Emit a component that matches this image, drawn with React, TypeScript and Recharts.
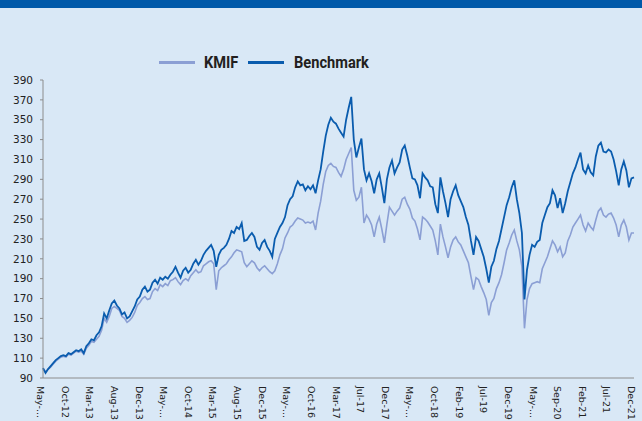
import React from 'react';
import { LineChart, Line, XAxis, YAxis, Legend } from 'recharts';

// half-month readings, May-12 .. Dec-21
const kmif = [
  100, 96, 99, 101, 104, 107, 109, 111, 112, 111, 114, 113, 115, 117, 116, 117, 114, 120, 123, 127,
  126, 129, 132, 138, 150, 146, 152, 160, 162, 160, 158, 152, 150, 146, 148, 151, 156, 163, 166, 170,
  172, 169, 170, 177, 180, 178, 184, 182, 185, 183, 188, 189, 191, 187, 184, 188, 190, 188, 193, 196,
  199, 196, 197, 203, 205, 207, 208, 205, 179, 198, 201, 203, 205, 209, 212, 216, 219, 218, 217, 206,
  202, 205, 208, 206, 201, 198, 201, 203, 200, 197, 195, 198, 205, 214, 220, 231, 236, 242, 244, 248,
  251, 250, 249, 246, 247, 246, 248, 239, 256, 268, 285, 298, 304, 306, 303, 302, 297, 293, 300, 310,
  316, 322, 279, 269, 272, 282, 246, 254, 250, 244, 232, 245, 252, 240, 226, 245, 262, 258, 254, 258,
  261, 270, 272, 265, 260, 251, 248, 240, 229, 252, 250, 247, 243, 239, 228, 214, 245, 232, 222, 211,
  222, 229, 232, 227, 224, 218, 212, 206, 192, 179, 191, 189, 182, 176, 169, 153, 166, 170, 180, 186,
  194, 206, 219, 226, 234, 239, 228, 219, 202, 140, 169, 180, 185, 186, 187, 186, 200, 206, 212, 220,
  228, 224, 217, 222, 212, 216, 228, 234, 242, 246, 250, 254, 244, 238, 246, 242, 239, 249, 258, 261,
  254, 252, 255, 256, 251, 244, 232, 244, 249, 242, 229, 236, 236,
];

const benchmark = [
  100, 95, 99, 102, 105, 108, 110, 112, 113, 112, 115, 114, 116, 118, 117, 119, 115, 122, 125, 129,
  128, 133, 136, 142, 155, 150, 158, 165, 168, 163, 160, 154, 156, 150, 152, 157, 162, 169, 172, 179,
  182, 177, 179, 186, 189, 185, 191, 189, 192, 190, 194, 197, 202, 196, 191, 198, 201, 196, 199, 205,
  209, 204, 208, 214, 218, 221, 224, 218, 202, 214, 219, 221, 224, 230, 238, 236, 242, 240, 246, 228,
  229, 233, 236, 232, 222, 219, 226, 229, 222, 218, 212, 230, 236, 242, 246, 252, 264, 270, 273, 282,
  288, 284, 285, 279, 283, 280, 284, 276, 289, 300, 318, 334, 345, 352, 348, 346, 341, 337, 333, 350,
  362, 373, 330, 312, 322, 331, 300, 289, 296, 288, 276, 290, 296, 282, 266, 290, 302, 309, 296, 302,
  307, 320, 324, 314, 302, 291, 290, 284, 271, 296, 292, 289, 283, 282, 265, 256, 292, 278, 266, 252,
  270, 278, 284, 274, 268, 262, 252, 244, 228, 214, 232, 228, 220, 212, 200, 186, 202, 208, 220, 228,
  240, 252, 264, 272, 282, 289, 270, 256, 236, 169, 199, 214, 224, 222, 227, 229, 246, 254, 262, 266,
  279, 274, 261, 271, 256, 266, 278, 287, 296, 302, 310, 317, 300, 296, 304, 297, 294, 313, 324, 327,
  318, 317, 320, 318, 310, 298, 284, 300, 308, 299, 282, 291, 292,
];

const seriesNames = ['KMIF', 'Benchmark'];

const tickLabels = [
  'May-...', 'Oct-12', 'Mar-13', 'Aug-13', 'Dec-13', 'May-...', 'Oct-14', 'Mar-15', 'Aug-15',
  'Dec-15', 'May-...', 'Oct-16', 'Mar-17', 'Jul-17', 'Dec-17', 'May-...', 'Oct-18', 'Feb-19',
  'Jul-19', 'Dec-19', 'May-...', 'Sep-20', 'Feb-21', 'Jul-21', 'Dec-21',
];

const yTicks = [90, 110, 130, 150, 170, 190, 210, 230, 250, 270, 290, 310, 330, 350, 370, 390];

const MONTHS = 116;
const data = kmif.map((v, i) => ({ t: i / 2, kmif: v, benchmark: benchmark[i] }));
const xTicks = tickLabels.map((_, i) => (i * MONTHS) / (tickLabels.length - 1));

const BG = '#d9e8f6';

function DateTick(props: any) {
  const { x, y, index } = props;
  const tx = x - 6;
  const ty = y;
  return (
    <text
      x={tx}
      y={ty}
      transform={`rotate(90 ${tx} ${ty})`}
      textAnchor="start"
      fontSize={9.5}
      fontFamily="DejaVu Sans, Verdana, sans-serif"
      fill="#222"
    >
      {tickLabels[index]}
    </text>
  );
}

function LegendBox(props: any) {
  const items = [...(props.payload || [])].sort(
    (a: any, b: any) => seriesNames.indexOf(a.value) - seriesNames.indexOf(b.value)
  );
  const textWidths = [32, 80];
  return (
    <div style={{ display: 'flex', alignItems: 'center', height: 24, paddingLeft: 159 }}>
      {items.map((it: any, i: number) => (
        <div key={i} style={{ display: 'flex', alignItems: 'center', marginRight: 12 }}>
          <div style={{ width: 36, height: 3, background: it.color, marginRight: i === 0 ? 9 : 10 }} />
          <div style={{ width: textWidths[i], whiteSpace: 'nowrap' }}>
            <span
              style={{
                display: 'inline-block',
                transform: 'scaleX(0.86)',
                transformOrigin: 'left center',
                fontFamily: 'Roboto, sans-serif',
                fontWeight: 700,
                fontSize: 17,
                color: '#231f20',
              }}
            >
              {it.value}
            </span>
          </div>
        </div>
      ))}
    </div>
  );
}

export default function App() {
  return (
    <div style={{ position: 'absolute', left: 0, top: 0, width: 642, height: 421, background: BG }}>
      <div style={{ position: 'absolute', left: 0, top: 0, width: 642, height: 8, background: '#0059a9' }} />
      <LineChart width={642} height={421} data={data} margin={{ top: 80, right: 8, bottom: 0, left: 0 }}>
        <XAxis
          type="number"
          dataKey="t"
          domain={[0, MONTHS]}
          ticks={xTicks}
          interval={0}
          tickLine={false}
          height={43}
          stroke="#8c8c8c"
          tick={<DateTick />}
        />
        <YAxis
          type="number"
          domain={[90, 390]}
          ticks={yTicks}
          interval={0}
          width={43}
          tickSize={3}
          tickMargin={7}
          stroke="#8c8c8c"
          tick={{ fontSize: 10.5, fill: '#222', fontFamily: 'DejaVu Sans, Verdana, sans-serif' }}
        />
        <Legend
          verticalAlign="middle"
          align="center"
          layout="horizontal"
          wrapperStyle={{ top: 50, left: 0, width: 642 }}
          content={<LegendBox />}
        />
        <Line
          type="linear"
          dataKey="kmif"
          name="KMIF"
          stroke="#8b9fd4"
          strokeWidth={1.6}
          dot={false}
          isAnimationActive={false}
        />
        <Line
          type="linear"
          dataKey="benchmark"
          name="Benchmark"
          stroke="#0a5cae"
          strokeWidth={1.8}
          dot={false}
          isAnimationActive={false}
        />
      </LineChart>
    </div>
  );
}
